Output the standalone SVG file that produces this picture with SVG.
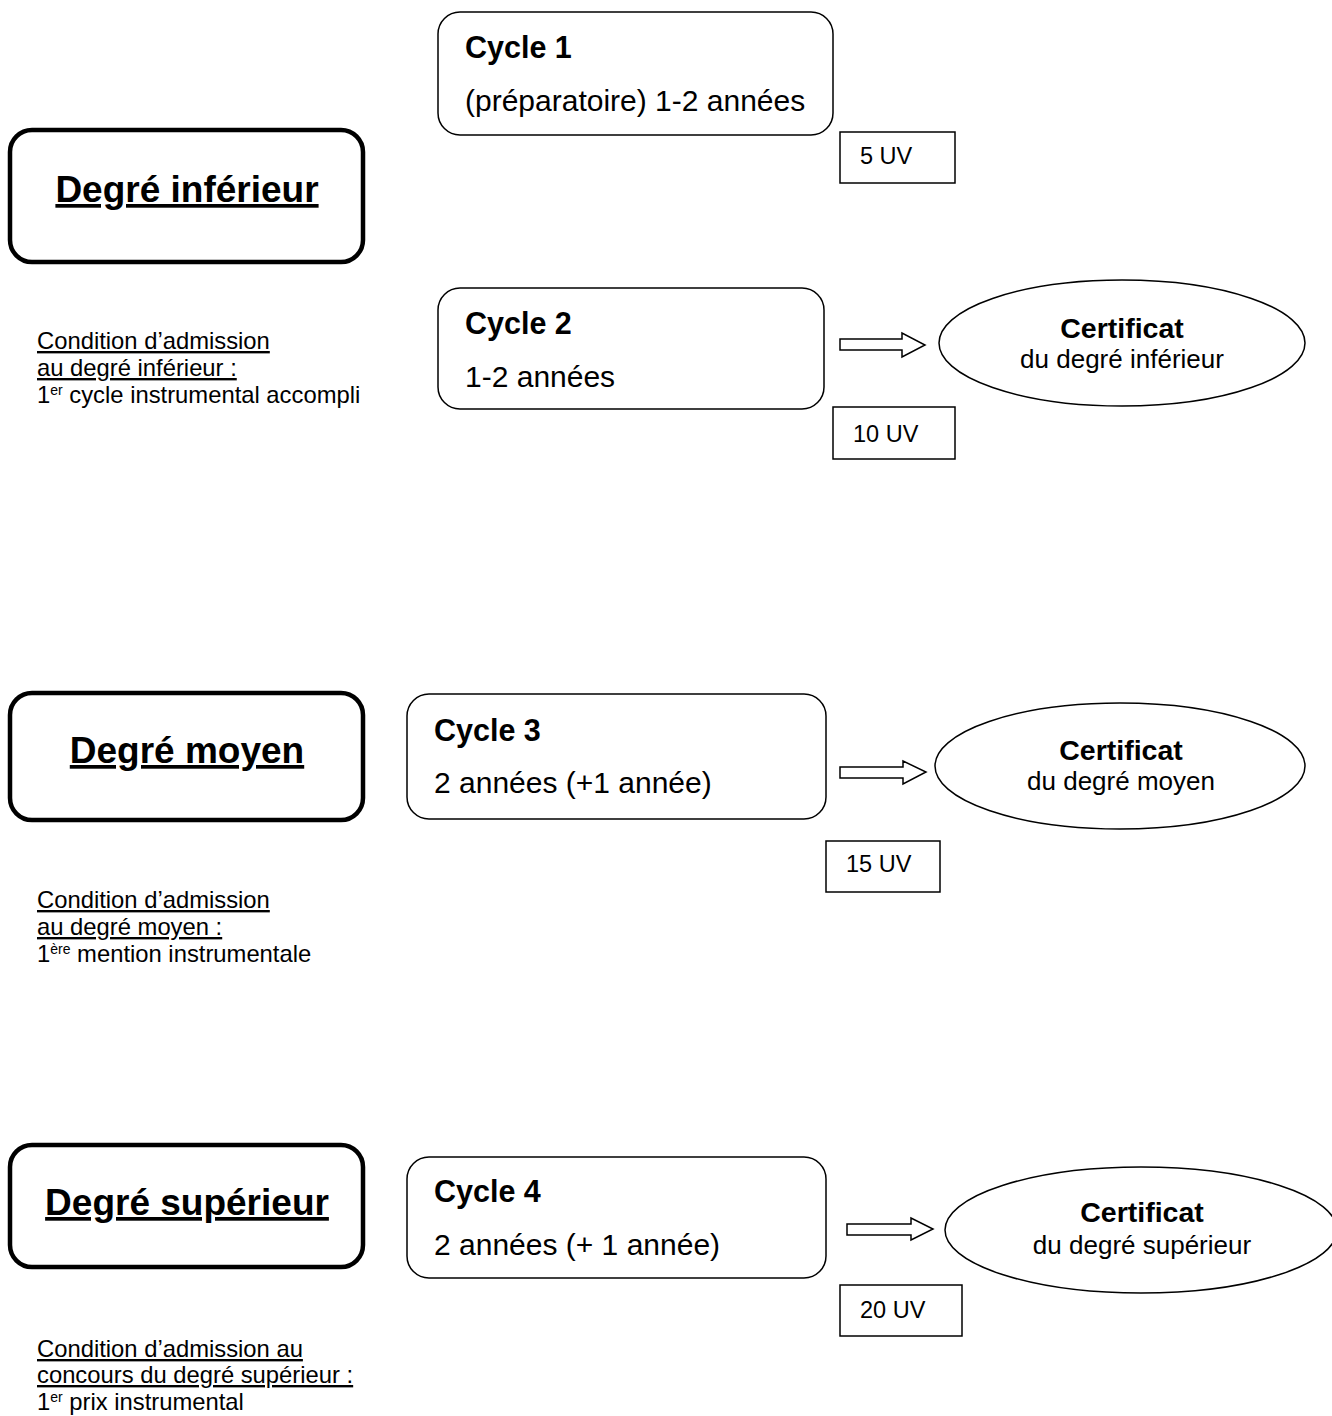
<svg xmlns="http://www.w3.org/2000/svg" width="1332" height="1416" viewBox="0 0 1332 1416">
<style>
text{font-family:"Liberation Sans",Arial,sans-serif;fill:#000}
.deg{fill:#fff;stroke:#000;stroke-width:4.5}
.cyc{fill:#fff;stroke:#000;stroke-width:1.5}
.uv{fill:#fff;stroke:#000;stroke-width:1.5}
.ell{fill:#fff;stroke:#000;stroke-width:1.5}
.arr{fill:#fff;stroke:#000;stroke-width:1.5;stroke-linejoin:miter}
.dt{font-size:37px;font-weight:bold;text-decoration:underline;text-anchor:middle}
.ct{font-size:30.5px;font-weight:bold}
.cs{font-size:30px}
.ut{font-size:23.5px}
.et{font-size:28.5px;font-weight:bold;text-anchor:middle}
.es{font-size:26px;text-anchor:middle}
.cond{font-size:23.8px}
.u{text-decoration:underline}
.sup{font-size:14px}
</style>
<rect width="1332" height="1416" fill="#fff"/>

<g id="degre-inferieur">
<rect class="deg" x="10" y="130" width="353" height="132" rx="22"/>
<text class="dt" x="187" y="202">Degré inférieur</text>
</g>
<g id="cycle1">
<rect class="cyc" x="438" y="12" width="395" height="123" rx="22"/>
<text class="ct" x="465" y="58">Cycle 1</text>
<text class="cs" x="465" y="111">(préparatoire) 1-2 années</text>
</g>
<g id="uv5">
<rect class="uv" x="840" y="132" width="115" height="51"/>
<text class="ut" x="860" y="164">5 UV</text>
</g>
<g id="cycle2">
<rect class="cyc" x="438" y="288" width="386" height="121" rx="22"/>
<text class="ct" x="465" y="334">Cycle 2</text>
<text class="cs" x="465" y="387">1-2 années</text>
</g>
<g id="uv10">
<rect class="uv" x="833" y="407" width="122" height="52"/>
<text class="ut" x="853" y="442">10 UV</text>
</g>
<g id="certificat-inferieur">
<ellipse class="ell" cx="1122" cy="343" rx="183" ry="63"/>
<text class="et" x="1122" y="338">Certificat</text>
<text class="es" x="1122" y="368">du degré inférieur</text>
</g>
<g id="condition-inferieur">
<text class="cond" x="37" y="349"><tspan class="u">Condition d’admission</tspan></text>
<text class="cond" x="37" y="376"><tspan class="u">au degré inférieur :</tspan></text>
<text class="cond" x="37" y="403">1<tspan class="sup" dy="-8">er</tspan><tspan dy="8"> cycle instrumental accompli</tspan></text>
</g>

<g id="degre-moyen">
<rect class="deg" x="10" y="693" width="353" height="127" rx="22"/>
<text class="dt" x="187" y="763">Degré moyen</text>
</g>
<g id="cycle3">
<rect class="cyc" x="407" y="694" width="419" height="125" rx="22"/>
<text class="ct" x="434" y="741">Cycle 3</text>
<text class="cs" x="434" y="793">2 années (+1 année)</text>
</g>
<g id="uv15">
<rect class="uv" x="826" y="841" width="114" height="51"/>
<text class="ut" x="846" y="872">15 UV</text>
</g>
<g id="certificat-moyen">
<ellipse class="ell" cx="1120" cy="766" rx="185" ry="63"/>
<text class="et" x="1121" y="760">Certificat</text>
<text class="es" x="1121" y="790">du degré moyen</text>
</g>
<g id="condition-moyen">
<text class="cond" x="37" y="908"><tspan class="u">Condition d’admission</tspan></text>
<text class="cond" x="37" y="935"><tspan class="u">au degré moyen :</tspan></text>
<text class="cond" x="37" y="962">1<tspan class="sup" dy="-8">ère</tspan><tspan dy="8"> mention instrumentale</tspan></text>
</g>

<g id="degre-superieur">
<rect class="deg" x="10" y="1145" width="353" height="122" rx="22"/>
<text class="dt" x="187" y="1215">Degré supérieur</text>
</g>
<g id="cycle4">
<rect class="cyc" x="407" y="1157" width="419" height="121" rx="22"/>
<text class="ct" x="434" y="1202">Cycle 4</text>
<text class="cs" x="434" y="1255">2 années (+ 1 année)</text>
</g>
<g id="uv20">
<rect class="uv" x="840" y="1285" width="122" height="51"/>
<text class="ut" x="860" y="1318">20 UV</text>
</g>
<g id="certificat-superieur">
<ellipse class="ell" cx="1141" cy="1230" rx="196" ry="63"/>
<text class="et" x="1142" y="1222">Certificat</text>
<text class="es" x="1142" y="1254">du degré supérieur</text>
</g>
<g id="condition-superieur">
<text class="cond" x="37" y="1357"><tspan class="u">Condition d’admission au</tspan></text>
<text class="cond" x="37" y="1383"><tspan class="u">concours du degré supérieur :</tspan></text>
<text class="cond" x="37" y="1410">1<tspan class="sup" dy="-8">er</tspan><tspan dy="8"> prix instrumental</tspan></text>
</g>

<g id="connectors">
<path class="arr" d="M840,339 H902 V333 L925,345 L902,357 V350 H840 Z"/>
<path class="arr" d="M840,767 H903 V761 L926,772 L903,784 V778 H840 Z"/>
<path class="arr" d="M847,1224 H911 V1218 L933,1229 L911,1240 V1235 H847 Z"/>
</g>
</svg>
